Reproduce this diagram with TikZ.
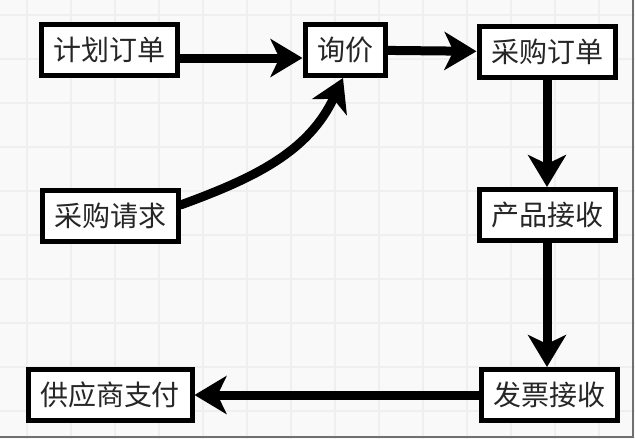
\documentclass[tikz,border=0pt]{standalone}
\usepackage{fontspec}
\usepackage{tikz}
\usetikzlibrary{arrows.meta,shadows}
\newfontfamily\cjk{Noto Sans CJK SC}
\definecolor{paper}{HTML}{F9F9F9}
\definecolor{gridline}{HTML}{EFEFEF}
\definecolor{frame}{HTML}{707070}
\newcommand{\boxfont}{\cjk\fontsize{28}{30}\selectfont}
\tikzset{
  stepbox/.style={draw=black, fill=white, line width=5pt, inner xsep=12pt,
    inner ysep=0pt, minimum height=51pt, font=\boxfont, text=black!85,
    drop shadow={shadow xshift=2pt, shadow yshift=-2pt, opacity=0.35}},
  flow/.style={line width=9pt, line cap=round,
    -{Stealth[length=32pt,width=38pt,inset=9pt]}}
}

\begin{document}
\begin{tikzpicture}[x=1pt,y=1pt]
\useasboundingbox (0,0) rectangle (635,-439);
\fill[paper] (0,0) rectangle (635,-439);
% grid
\foreach \gx in {27,71,...,631} \draw[gridline, line width=1.2pt] (\gx,0) -- (\gx,-439);
\foreach \gy in {15,59,...,439} \draw[gridline, line width=1.2pt] (0,-\gy) -- (635,-\gy);
\draw[frame, line width=2pt] (633,0) -- (633,-437) -- (0,-437);

\node[stepbox] (jihua)   at (109,-50)  {计划订单};
\node[stepbox] (xunjia)  at (345,-50)  {询价};
\node[stepbox] (caigou)  at (547,-52)  {采购订单};
\node[stepbox] (qingqiu) at (110,-216) {采购请求};
\node[stepbox] (chanpin) at (547,-215) {产品接收};
\node[stepbox] (fapiao)  at (549,-395) {发票接收};
\node[stepbox] (fukuan)  at (110,-395) {供应商支付};

\draw[flow] ([yshift=-8pt]jihua.east) -- ([yshift=-8pt]xunjia.west);
\draw[flow] (xunjia) -- (caigou);
\draw[flow] ([yshift=11pt]qingqiu.east) to[out=20,in=-115] ([xshift=-2pt]xunjia.south);
\draw[flow] (caigou) -- (chanpin);
\draw[flow] (chanpin.south) -- (chanpin.south |- fapiao.north);
\draw[flow] (fapiao) -- (fukuan);
\end{tikzpicture}
\end{document}
